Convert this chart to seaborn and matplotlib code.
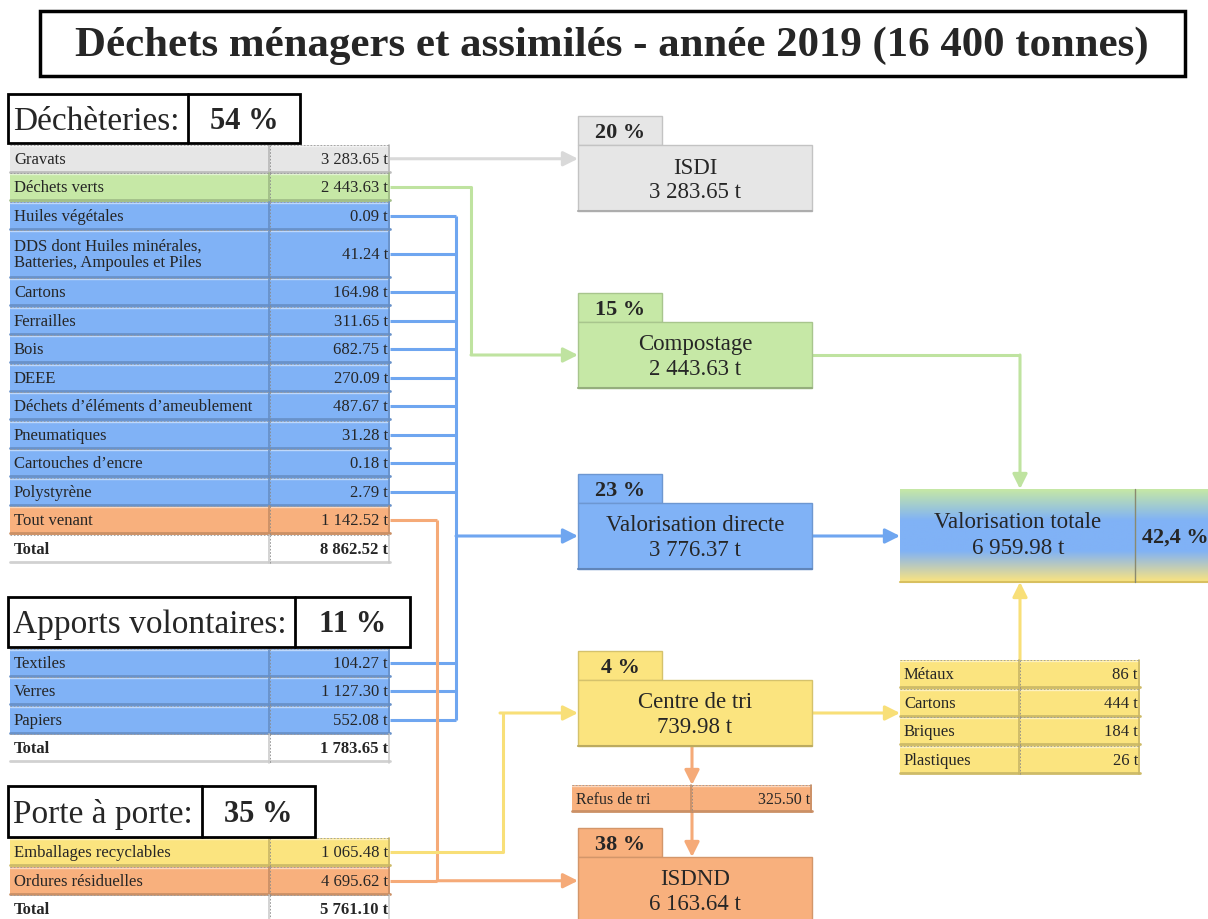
import numpy as np
import matplotlib.pyplot as plt
import matplotlib.colors as mcolors
from matplotlib.patches import Rectangle, FancyArrowPatch
import seaborn as sns

# -----------------------------
# Data
# -----------------------------
title = "Déchets ménagers et assimilés - année 2019 (16 400 tonnes)"

dech_labels = ['Gravats', 'Déchets verts', 'Huiles végétales',
               'DDS dont Huiles minérales,\nBatteries, Ampoules et Piles',
               'Cartons', 'Ferrailles', 'Bois', 'DEEE',
               'Déchets d’éléments d’ameublement', 'Pneumatiques',
               'Cartouches d’encre', 'Polystyrène', 'Tout venant']
dech_values = [3283.65, 2443.63, 0.09, 41.24, 164.98, 311.65, 682.75,
               270.09, 487.67, 31.28, 0.18, 2.79, 1142.52]
dech_flux = ['isdi', 'compost', 'valo', 'valo', 'valo', 'valo', 'valo',
             'valo', 'valo', 'valo', 'valo', 'valo', 'isdnd']
dech_total = 8862.52
dech_pct = '54 %'

av_labels = ['Textiles', 'Verres', 'Papiers']
av_values = [104.27, 1127.30, 552.08]
av_flux = ['valo', 'valo', 'valo']
av_total = 1783.65
av_pct = '11 %'

pap_labels = ['Emballages recyclables', 'Ordures résiduelles']
pap_values = [1065.48, 4695.62]
pap_flux = ['tri', 'isdnd']
pap_total = 5761.10
pap_pct = '35 %'

dest_keys = ['isdi', 'compost', 'valo', 'tri', 'isdnd']
dest_names = ['ISDI', 'Compostage', 'Valorisation directe', 'Centre de tri', 'ISDND']
dest_tonnes = [3283.65, 2443.63, 3776.37, 739.98, 6163.64]
dest_pct = ['20 %', '15 %', '23 %', '4 %', '38 %']

refus_value = 325.50

tri_labels = ['Métaux', 'Cartons', 'Briques', 'Plastiques']
tri_values = [86, 444, 184, 26]

valo_totale = 6959.98
valo_pct = '42,4 %'

# -----------------------------
# Style
# -----------------------------
sns.set_theme(style='white')
plt.rcParams['font.family'] = ['Liberation Serif', 'DejaVu Serif']

fill = {'isdi': '#e6e6e6', 'compost': '#c6e8a6', 'valo': '#80b2f6',
        'tri': '#fbe47f', 'isdnd': '#f8b07d', 'total': '#ffffff'}
line = {'isdi': '#d9d9d9', 'compost': '#bfe3a0', 'valo': '#6fa6f0',
        'tri': '#f8df78', 'isdnd': '#f5aa78'}


def fmt(v):
    return f"{v:,.2f}".replace(',', ' ') + ' t'


def shade(c, f):
    r, g, b = mcolors.to_rgb(c)
    return (r * f, g * f, b * f)


fig = plt.figure(figsize=(12.08, 9.2), dpi=100)
ax = fig.add_axes([0, 0, 1, 1])
ax.set_xlim(0, 1208)
ax.set_ylim(920, 0)
ax.axis('off')


def cell(x0, y0, x1, y1, color, z=2):
    ax.add_patch(Rectangle((x0, y0), x1 - x0, y1 - y0, facecolor=color,
                           edgecolor='none', zorder=z))
    ax.plot([x0, x1], [y0 + 1, y0 + 1], color='white', alpha=0.5, lw=1, zorder=z + 0.1)
    ax.plot([x0, x1], [y1 - 1.5, y1 - 1.5], color=shade(color, 0.82), lw=2, zorder=z + 0.1)
    ax.plot([x1 - 1, x1 - 1], [y0, y1], color=shade(color, 0.8), lw=1.2, zorder=z + 0.1)
    ax.plot([x0, x1], [y0, y0], color='#9a9a9a', lw=0.6, ls=(0, (2, 2)), zorder=z + 0.2)


def table(x0, xd, x1, top, heights, labels, values, colors, size=12, bold=False):
    centers = []
    y = top
    for h, lab, val, col in zip(heights, labels, values, colors):
        cell(x0, y, xd, y + h, col)
        cell(xd, y, x1, y + h, col)
        ax.plot([xd, xd], [y, y + h], color='#8a8a8a', lw=0.6, ls=(0, (2, 2)), zorder=2.3)
        yc = y + h / 2
        w = 'bold' if bold else 'normal'
        ax.text(x0 + 4, yc, lab, ha='left', va='center', fontsize=size,
                fontweight=w, linespacing=1.0, zorder=4)
        ax.text(x1 - 2, yc, val, ha='right', va='center', fontsize=size,
                fontweight=w, zorder=4)
        centers.append(yc)
        y += h
    return centers, y


def header(x0, xd, x1, y0, y1, name, pct):
    ax.add_patch(Rectangle((x0, y0), x1 - x0, y1 - y0, facecolor='white',
                           edgecolor='black', lw=2, zorder=3))
    ax.plot([xd, xd], [y0, y1], color='black', lw=2, zorder=3)
    ym = (y0 + y1) / 2
    ax.text(x0 + 5, ym + 2, name, ha='left', va='center', fontsize=24, zorder=4)
    ax.text((xd + x1) / 2, ym + 2, pct, ha='center', va='center', fontsize=22,
            fontweight='bold', zorder=4)


def seg(xs, ys, c):
    ax.plot(xs, ys, color=c, lw=2.2, zorder=1, solid_capstyle='butt')


def arrow(p0, p1, c):
    ax.add_patch(FancyArrowPatch(p0, p1, arrowstyle='-|>', mutation_scale=22,
                                 color=c, lw=2.2, shrinkA=0, shrinkB=0, zorder=1))


# -----------------------------
# Title
# -----------------------------
ax.add_patch(Rectangle((40, 12), 1145, 65, facecolor='white', edgecolor='black', lw=2.5, zorder=3))
t = ax.text(612, 46, title, ha='center', va='center', fontsize=30, fontweight='bold', zorder=4)
fig.canvas.draw()
t.set_fontsize(30 * 1070 / t.get_window_extent().width)

# -----------------------------
# Left tables
# -----------------------------
RH = 28.5
header(8, 188, 300, 95, 144, 'Déchèteries:', dech_pct)
h1 = [RH if '\n' not in l else 48 for l in dech_labels]
c1, y_end = table(10, 270, 390, 145.5, h1, dech_labels,
                  [fmt(v) for v in dech_values], [fill[f] for f in dech_flux])
table(10, 270, 390, y_end, [RH], ['Total'], [fmt(dech_total)], [fill['total']], bold=True)

header(8, 295, 410, 598, 648, 'Apports volontaires:', av_pct)
c2, y_end = table(10, 270, 390, 649.5, [RH] * 3, av_labels,
                  [fmt(v) for v in av_values], [fill[f] for f in av_flux])
table(10, 270, 390, y_end, [RH], ['Total'], [fmt(av_total)], [fill['total']], bold=True)

header(8, 202, 315, 787, 838, 'Porte à porte:', pap_pct)
c3, y_end = table(10, 270, 390, 839, [RH] * 2, pap_labels,
                  [fmt(v) for v in pap_values], [fill[f] for f in pap_flux])
table(10, 270, 390, y_end, [RH], ['Total'], [fmt(pap_total)], [fill['total']], bold=True)

# -----------------------------
# Destination boxes
# -----------------------------
BX0, BX1 = 578, 812
box_tops = dict(zip(dest_keys, [146, 323, 504, 681, 858]))
box_mid = {}
for key, name, tn, pct in zip(dest_keys, dest_names, dest_tonnes, dest_pct):
    top = box_tops[key]
    col = fill[key]
    edge = shade(col, 0.85)
    ax.add_patch(Rectangle((BX0, top - 29), 84, 29, facecolor=col, edgecolor=edge, lw=1, zorder=2))
    ax.add_patch(Rectangle((BX0, top), BX1 - BX0, 66, facecolor=col, edgecolor=edge, lw=1, zorder=2))
    ax.plot([BX0, BX1], [top + 66, top + 66], color=shade(col, 0.75), lw=1.5, zorder=2.1)
    ax.text(BX0 + 42, top - 13, pct, ha='center', va='center', fontsize=16, fontweight='bold', zorder=4)
    ax.text((BX0 + BX1) / 2, top + 22, name, ha='center', va='center', fontsize=16.5, zorder=4)
    ax.text((BX0 + BX1) / 2, top + 47, fmt(tn), ha='center', va='center', fontsize=16.5, zorder=4)
    box_mid[key] = top + 33

# refus de tri row
cell(572, 786, 692, 813, fill['isdnd'])
cell(692, 786, 812, 813, fill['isdnd'])
ax.plot([692, 692], [786, 813], color='#8a8a8a', lw=0.6, ls=(0, (2, 2)), zorder=2.3)
ax.text(576, 800, 'Refus de tri', ha='left', va='center', fontsize=11.5, zorder=4)
ax.text(810, 800, fmt(refus_value), ha='right', va='center', fontsize=11.5, zorder=4)

# sorted materials table
ct, _ = table(900, 1020, 1140, 661, [RH] * 4, tri_labels,
              [f"{v:d} t" for v in tri_values], [fill['tri']] * 4, size=12)

# valorisation totale (gradient green / blue / yellow)
VT0, VT1, VX0 = 490, 583, 900
cmap = sns.blend_palette([fill['compost'], fill['valo'], fill['valo'], fill['tri']], as_cmap=True)
grad = np.linspace(0, 1, 200).reshape(-1, 1)
ax.imshow(grad, cmap=cmap, extent=(VX0, 1212, VT1, VT0), origin='upper',
          aspect='auto', zorder=2, interpolation='bilinear')
ax.plot([VX0, 1212], [VT1, VT1], color='#d8c060', lw=1.5, zorder=2.1)
ax.plot([1135, 1135], [VT0, VT1], color='#8a8a70', lw=1, zorder=2.1)
ax.text(1018, 523, 'Valorisation totale', ha='center', va='center', fontsize=16.5, zorder=4)
ax.text(1018, 549, fmt(valo_totale), ha='center', va='center', fontsize=16.5, zorder=4)
ax.text(1142, 538, valo_pct, ha='left', va='center', fontsize=16, fontweight='bold', zorder=4)
ax.set_xlim(0, 1208)
ax.set_ylim(920, 0)

# -----------------------------
# Connectors
# -----------------------------
rows = list(zip(dech_flux, c1)) + list(zip(av_flux, c2)) + list(zip(pap_flux, c3))
X_VALO, X_COMP, X_ISDND, X_TRI = 456, 471, 437, 503

# grey -> ISDI
y_isdi = [y for f, y in rows if f == 'isdi'][0]
arrow((390, y_isdi), (BX0, y_isdi), line['isdi'])

# green -> compostage
y_c = [y for f, y in rows if f == 'compost'][0]
seg([390, X_COMP, X_COMP], [y_c, y_c, box_mid['compost']], line['compost'])
arrow((X_COMP, box_mid['compost']), (BX0, box_mid['compost']), line['compost'])

# blue -> valorisation directe
ys_v = [y for f, y in rows if f == 'valo']
for y in ys_v:
    seg([390, X_VALO], [y, y], line['valo'])
seg([X_VALO, X_VALO], [min(ys_v), max(ys_v)], line['valo'])
arrow((X_VALO, box_mid['valo']), (BX0, box_mid['valo']), line['valo'])

# orange -> ISDND
ys_o = [y for f, y in rows if f == 'isdnd']
for y in ys_o:
    seg([390, X_ISDND], [y, y], line['isdnd'])
seg([X_ISDND, X_ISDND], [min(ys_o), max(ys_o)], line['isdnd'])
arrow((X_ISDND, max(ys_o)), (BX0, max(ys_o)), line['isdnd'])

# yellow -> centre de tri
y_t = [y for f, y in rows if f == 'tri'][0]
seg([390, X_TRI, X_TRI], [y_t, y_t, box_mid['tri']], line['tri'])
arrow((X_TRI - 3, box_mid['tri']), (BX0, box_mid['tri']), line['tri'])

# right side flows
seg([BX1, 1020], [box_mid['compost'], box_mid['compost']], line['compost'])
arrow((1020, box_mid['compost']), (1020, VT0), line['compost'])
arrow((BX1, box_mid['valo']), (VX0, box_mid['valo']), line['valo'])
arrow((BX1, box_mid['tri']), (900, box_mid['tri']), line['tri'])
arrow((1020, 661), (1020, VT1), line['tri'])
arrow((692, box_tops['tri'] + 66), (692, 786), line['isdnd'])
arrow((692, 813), (692, box_tops['isdnd']), line['isdnd'])

plt.savefig('out.png', dpi=100)
